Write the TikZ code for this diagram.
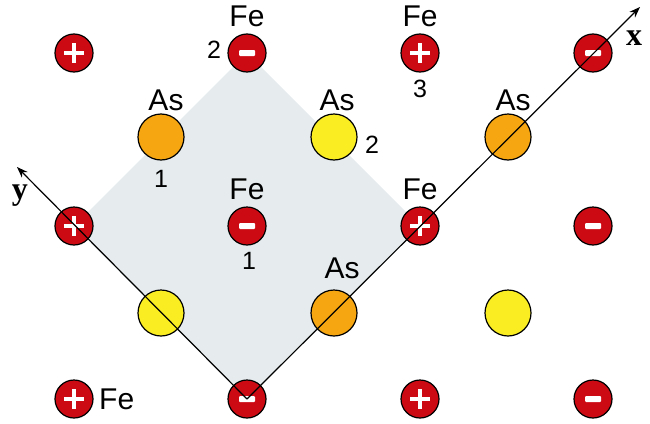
\documentclass[tikz,border=0pt]{standalone}
\usepackage{fontspec}
\setmainfont{Liberation Sans}
\newfontfamily\serifbf{Liberation Serif}
\definecolor{fered}{HTML}{CC0A14}
\definecolor{asorange}{HTML}{F6A611}
\definecolor{asyellow}{HTML}{FAEE22}
\definecolor{cellgray}{HTML}{E6ECEE}
\usetikzlibrary{arrows.meta,calc}
\begin{document}
\begin{tikzpicture}[x=1pt,y=-1pt,
  fe/.style={circle,draw=black,line width=1.2pt,fill=fered,minimum size=38pt,inner sep=0pt},
  aso/.style={circle,draw=black,line width=1.2pt,fill=asorange,minimum size=46pt,inner sep=0pt},
  asy/.style={circle,draw=black,line width=1.2pt,fill=asyellow,minimum size=46pt,inner sep=0pt},
  lbl/.style={font=\fontsize{30}{30}\selectfont,anchor=base,inner sep=0pt},
  num/.style={font=\fontsize{25}{25}\selectfont,anchor=base,inner sep=0pt},
  axl/.style={font=\serifbf\bfseries\fontsize{32}{32}\selectfont,inner sep=0pt},
  axisline/.style={line width=1.2pt,-{Stealth[length=11pt,width=8pt]}}]
\useasboundingbox (0,0) rectangle (650,423);
\newcommand{\plussign}[1]{\fill[white] ($(#1)+(-10,-2)$) rectangle ($(#1)+(10,2)$);
  \fill[white] ($(#1)+(-2,-10)$) rectangle ($(#1)+(2,10)$);}
\newcommand{\minussign}[1]{\fill[white,rounded corners=1pt] ($(#1)+(-8,-3)$) rectangle ($(#1)+(8,3)$);}
% shaded cell
\coordinate (T) at (247,53);
\coordinate (L) at (74,226);
\coordinate (B) at (247,399);
\coordinate (R) at (420,226);
\fill[cellgray] (T) -- (L) -- (B) -- (R) -- cycle;
% Fe atoms
\node[fe] (f11) at (74,53) {};
\node[fe] (f12) at (247,53) {};
\node[fe] (f13) at (420,53) {};
\node[fe] (f14) at (593,53) {};
\node[fe] (f21) at (74,226) {};
\node[fe] (f22) at (247,226) {};
\node[fe] (f23) at (420,226) {};
\node[fe] (f24) at (593,226) {};
\node[fe] (f31) at (74,399) {};
\node[fe] (f32) at (247,399) {};
\node[fe] (f33) at (420,399) {};
\node[fe] (f34) at (593,399) {};
\plussign{f11}\minussign{f12}\plussign{f13}\minussign{f14}
\plussign{f21}\minussign{f22}\plussign{f23}\minussign{f24}
\plussign{f31}\minussign{f32}\plussign{f33}\minussign{f34}
% As atoms
\node[aso] (a11) at (161,137) {};
\node[asy] (a12) at (334,137) {};
\node[aso] (a13) at (508,137) {};
\node[asy] (a21) at (161,313) {};
\node[aso] (a22) at (334,313) {};
\node[asy] (a23) at (508,313) {};
% axes
\node[inner sep=0pt] (xend) at (640,7) {};
\node[inner sep=0pt] (yend) at (17,167) {};
\draw[axisline] (f32.center) -- (xend.center);
\draw[axisline] (f32.center) -- (yend.center);
\node[axl] (xl) at (634,38) {x};
\node[axl] (yl) at (20,196) {y};
% labels
\node[lbl] (tf12) at (247,27) {Fe};
\node[lbl] (tf13) at (420,27) {Fe};
\node[lbl] (tf22) at (247,199) {Fe};
\node[lbl] (tf23) at (420,199) {Fe};
\node[lbl,anchor=base west] (tf31) at (99,409) {Fe};
\node[lbl] (ta11) at (166,110) {As};
\node[lbl] (ta12) at (337,110) {As};
\node[lbl] (ta13) at (513,110) {As};
\node[lbl] (ta22) at (342,278) {As};
\node[num] (n1) at (161,187) {1};
\node[num] (n2) at (214,58) {2};
\node[num] (n3) at (420,97) {3};
\node[num] (n4) at (372,153) {2};
\node[num] (n5) at (249,269) {1};
\end{tikzpicture}
\end{document}
